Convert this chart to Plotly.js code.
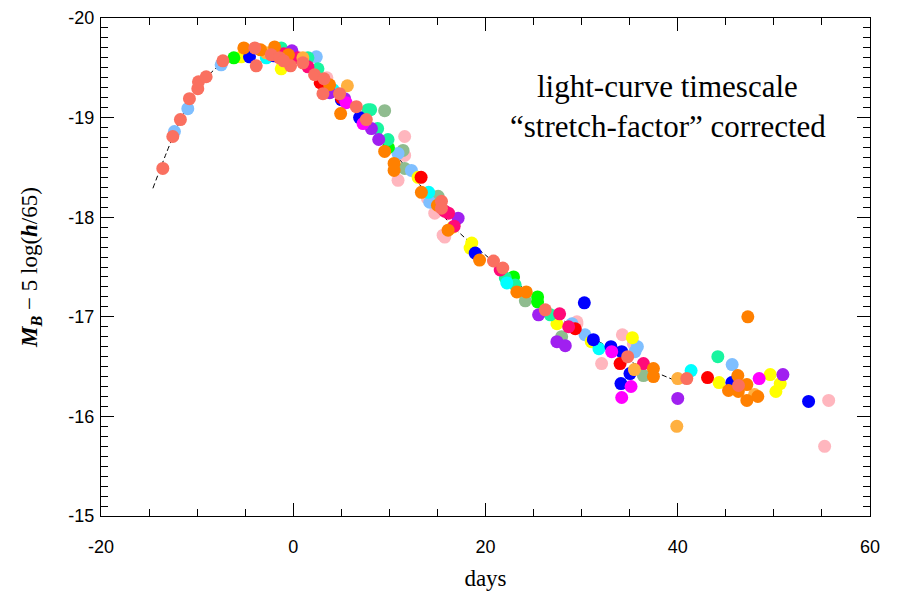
<!DOCTYPE html>
<html><head><meta charset="utf-8">
<script src="https://cdn.plot.ly/plotly-3.0.1.min.js"></script>
<style>body{margin:0;background:#fff}#chart{width:901px;height:593px}</style>
</head><body><div id="chart"></div>
<script>
// Template light curve (dashed line)
const templateDays = [-14.6,-12,-10,-8,-6,-4,-2,0,2,4,6,8,10,12,14,16,18,20,22,24,26,28,30,32,34,36,38,39.5];
const templateMags = [-18.29,-18.92,-19.28,-19.50,-19.62,-19.67,-19.66,-19.60,-19.50,-19.33,-19.13,-18.93,-18.70,-18.47,-18.22,-17.97,-17.78,-17.62,-17.45,-17.28,-17.11,-16.97,-16.85,-16.74,-16.60,-16.51,-16.43,-16.37];

// Supernova points per colour group
const pinkDays = [11.59,11.59,10.9,13.96,14.72,15.59,15.76,29.51,29.51,32.08,34.24,35.38,55.7,55.28,3.5];
const pinkMags = [-18.81,-18.62,-18.37,-18.19,-18.04,-17.82,-17.80,-16.93,-16.95,-16.53,-16.82,-16.73,-16.16,-15.70,-19.40];
const seagreenDays = [9.51,11.42,11.59,15.07,24.14,27.92,36.43];
const seagreenMags = [-19.07,-18.67,-18.49,-18.21,-17.16,-16.80,-16.41];
const lightblueDays = [-12.36,-10.97,-7.5,2.4,10.9,12.29,29.0,30.35,35.55,35.8,45.66,14.2];
const lightblueMags = [-18.86,-19.09,-19.53,-19.61,-18.64,-18.47,-16.93,-16.82,-16.65,-16.70,-16.52,-18.15];
const yellowDays = [-5.4,-1.25,12.99,18.57,18.4,27.43,31.0,35.28,44.3,49.62,50.66,50.21,16.6];
const yellowMags = [-19.61,-19.49,-18.40,-17.74,-17.69,-16.93,-16.75,-16.79,-16.34,-16.42,-16.33,-16.25,-17.90];
const greenDays = [-6.18,22.92,25.42,25.42,-1.5,9.9];
const greenMags = [-19.60,-17.40,-17.20,-17.15,-19.66,-18.70];
const springDays = [-1.25,1.53,2.57,7.78,8.05,8.78,9.86,22.06,23.09,26.74,44.17];
const springMags = [-19.70,-19.60,-19.49,-19.08,-19.08,-18.89,-18.78,-17.39,-17.32,-17.02,-16.60];
const cyanDays = [-2.8,4.14,14.09,22.22,31.8,41.39];
const cyanMags = [-19.60,-19.28,-18.25,-17.34,-16.68,-16.46];
const blueDays = [-4.55,5.0,6.9,18.93,30.28,31.22,33.05,34.17,35.03,34.09,45.63,53.61,-2.0];
const blueMags = [-19.61,-19.18,-19.0,-17.64,-17.14,-16.77,-16.70,-16.65,-16.43,-16.33,-16.34,-16.15,-19.62];
const redDays = [5.0,13.3,29.34,34.0,43.1,2.8];
const redMags = [-19.20,-18.40,-16.88,-16.53,-16.39,-19.35];
const purpleDays = [-0.14,5.34,8.13,8.89,17.15,25.52,27.43,28.3,40.0,50.94,3.8];
const purpleMags = [-19.67,-19.19,-18.89,-18.78,-17.99,-17.02,-16.75,-16.71,-16.18,-16.42,-19.25];
const magentaDays = [7.26,33.13,35.14,34.17,48.47,5.5];
const magentaMags = [-18.94,-16.65,-16.30,-16.19,-16.38,-19.15];
const deeppinkDays = [0.49,1.53,15.76,16.15,16.74,21.53,27.71,28.65,36.43,-1.0];
const deeppinkMags = [-19.60,-19.51,-18.06,-18.04,-17.91,-17.47,-17.03,-16.90,-16.53,-19.64];
const lightorangeDays = [-2.8,5.63,35.49,40.0,47.99,39.9,1.0];
const lightorangeMags = [-19.65,-19.32,-16.47,-16.38,-16.22,-15.90,-19.60];
const orangeDays = [-5.14,-1.94,3.78,4.93,9.51,10.49,10.49,13.33,16.11,19.38,23.26,24.24,37.47,37.47,47.29,46.25,47.19,45.28,46.3,47.19,48.33,-3.4,-0.5,15.0];
const orangeMags = [-19.70,-19.71,-19.33,-19.04,-18.66,-18.54,-18.47,-18.25,-17.87,-17.57,-17.25,-17.25,-16.48,-16.40,-17.00,-16.41,-16.32,-16.26,-16.25,-16.16,-16.20,-19.68,-19.63,-18.12];
const salmonDays = [-13.57,-12.53,-11.74,-10.80,-9.93,-9.86,-9.06,-7.32,-4.0,-3.85,-2.29,-1.43,-0.28,2.22,3.2,3.09,4.82,6.56,7.6,15.42,15.42,20.83,21.8,26.22,34.79,40.94,46.32,-1.0,1.0];
const salmonMags = [-18.49,-18.81,-18.98,-19.19,-19.29,-19.36,-19.41,-19.57,-19.70,-19.52,-19.63,-19.60,-19.52,-19.43,-19.39,-19.24,-19.24,-19.11,-18.98,-18.16,-18.09,-17.56,-17.49,-17.07,-16.60,-16.38,-16.31,-19.57,-19.55];

const xTickVals = [-20,0,20,40,60];
const yTickVals = [-20,-19,-18,-17,-16,-15];

const groups = [
  [pinkDays,pinkMags,'#FFB6BE'],
  [seagreenDays,seagreenMags,'#8FBC8F'],
  [lightblueDays,lightblueMags,'#7FBFFF'],
  [yellowDays,yellowMags,'#FFFF00'],
  [greenDays,greenMags,'#00FF00'],
  [springDays,springMags,'#19F5A0'],
  [cyanDays,cyanMags,'#00FFFF'],
  [blueDays,blueMags,'#0000FF'],
  [redDays,redMags,'#FF0000'],
  [purpleDays,purpleMags,'#A020F0'],
  [magentaDays,magentaMags,'#FF00FF'],
  [deeppinkDays,deeppinkMags,'#FF0A78'],
  [lightorangeDays,lightorangeMags,'#FFB040'],
  [orangeDays,orangeMags,'#FF8000'],
  [salmonDays,salmonMags,'#FA7060']
];

const traces = [{
  x: templateDays, y: templateMags, mode: 'lines', type: 'scatter',
  line: {color: '#000', width: 1, dash: '5px,3px', shape: 'spline'}, hoverinfo: 'skip'
}];
groups.forEach(g => traces.push({
  x: g[0], y: g[1], mode: 'markers', type: 'scatter',
  marker: {color: g[2], size: 13, line: {width: 0}}
}));

const axisCommon = {
  showgrid: false, zeroline: false, showline: true, linecolor: '#000', linewidth: 1.2,
  mirror: 'ticks', ticks: 'inside', ticklen: 13, tickwidth: 1, tickcolor: '#000',
  tickfont: {family: 'Liberation Sans, Arial, sans-serif', size: 18, color: '#000'}
};

const layout = {
  width: 901, height: 593, showlegend: false,
  paper_bgcolor: '#fff', plot_bgcolor: '#fff',
  margin: {l: 101, r: 31, t: 18, b: 77},
  xaxis: Object.assign({}, axisCommon, {
    range: [-20, 60], tickvals: xTickVals, ticktext: xTickVals.map(String),
    ticklabelstandoff: 14,
    minor: {dtick: 5, ticks: 'inside', ticklen: 7, tickcolor: '#000', tickwidth: 1},
    title: {text: 'days', font: {family: 'Liberation Serif, Times New Roman, serif', size: 23, color: '#000'}, standoff: 14}
  }),
  yaxis: Object.assign({}, axisCommon, {
    range: [-15, -20], tickvals: yTickVals, ticktext: yTickVals.map(String),
    ticklabelstandoff: 2,
    minor: {dtick: 0.1, ticks: 'inside', ticklen: 7, tickcolor: '#000', tickwidth: 1},
    title: {text: '<b><i>M</i></b><sub><b><i>B</i></b></sub> − 5 log(<b><i>h</i></b>/65)', font: {family: 'Liberation Serif, Times New Roman, serif', size: 23, color: '#000'}, standoff: 24}
  }),
  annotations: [
    {x: 0.737, y: 0.862, xref: 'paper', yref: 'paper', showarrow: false, xanchor: 'center', yanchor: 'middle',
     text: 'light-curve timescale', font: {family: 'Liberation Serif, Times New Roman, serif', size: 31, color: '#000'}},
    {x: 0.737, y: 0.783, xref: 'paper', yref: 'paper', showarrow: false, xanchor: 'center', yanchor: 'middle',
     text: '“stretch-factor” corrected', font: {family: 'Liberation Serif, Times New Roman, serif', size: 31, color: '#000'}}
  ]
};

Plotly.newPlot('chart', traces, layout, {displayModeBar: false, staticPlot: true});
</script></body></html>
